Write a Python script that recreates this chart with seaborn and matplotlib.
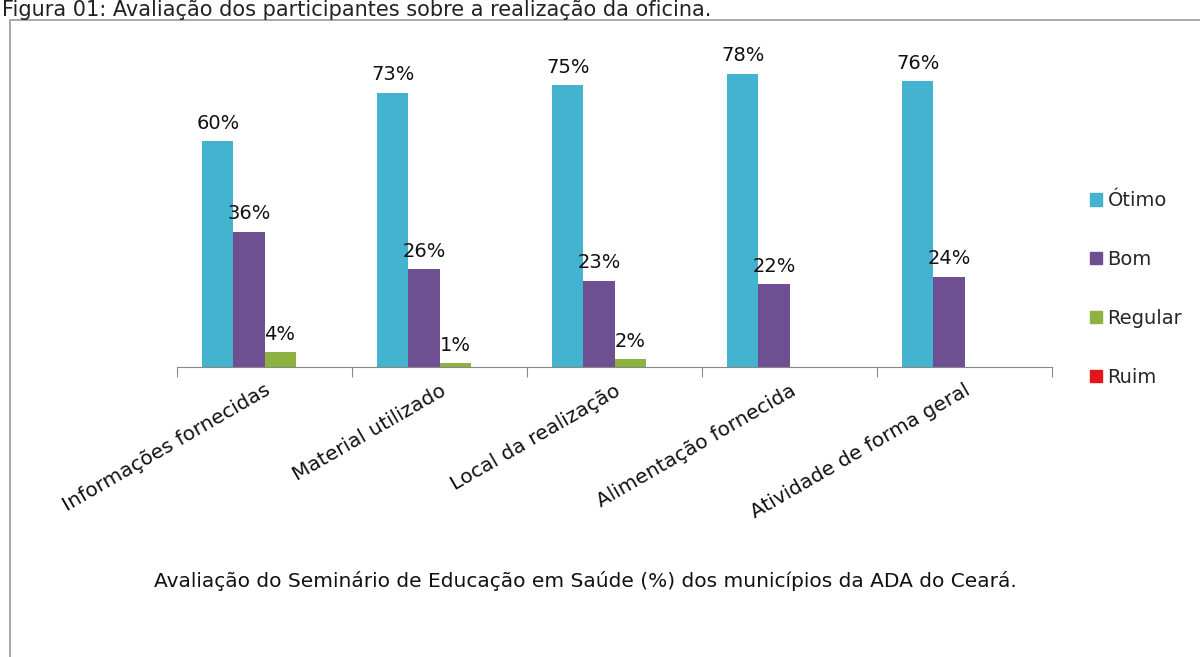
import matplotlib
matplotlib.use('Agg')
import matplotlib.pyplot as plt
import matplotlib.patches as mpatches
import seaborn as sns
import pandas as pd
import numpy as np

# ==================== 数据 ====================
categorias = ['Informações fornecidas', 'Material utilizado', 'Local da realização',
              'Alimentação fornecida', 'Atividade de forma geral']
niveis = ['Ótimo', 'Bom', 'Regular', 'Ruim']
otimo = [60, 73, 75, 78, 76]
bom = [36, 26, 23, 22, 24]
regular = [4, 1, 2, 0, 0]
ruim = [0, 0, 0, 0, 0]

cores = {'Ótimo': '#44B3CF', 'Bom': '#6E4F91', 'Regular': '#8DB23F', 'Ruim': '#E3161B'}

df = pd.DataFrame({
    'categoria': categorias * 4,
    'nivel': np.repeat(niveis, len(categorias)),
    'valor': otimo + bom + regular + ruim,
})

sns.set_style('white')
plt.rcParams['font.family'] = ['DejaVu Sans']

W, H = 1200, 657
fig = plt.figure(figsize=(W / 100, H / 100), dpi=100)
ax = fig.add_axes([177 / W, 1 - 367 / H, (1052 - 177) / W, (367 - 40) / H])

sns.barplot(data=df, x='categoria', y='valor', hue='nivel', hue_order=niveis,
            palette=cores, saturation=1, width=0.71, gap=0, ax=ax, legend=False,
            edgecolor='none', linewidth=0)

# rótulos de valor
for cont, nivel in zip(ax.containers, niveis):
    labels = [f'{v:.0f}%' if v > 0 else '' for v in cont.datavalues]
    ax.bar_label(cont, labels=labels, padding=6, fontsize=14, color='#111111')

ax.set_xlim(-0.5, 4.5)
ax.set_ylim(0, 87)
ax.set_xlabel('')
ax.set_ylabel('')
ax.set_yticks([])
for s in ['top', 'right', 'left']:
    ax.spines[s].set_visible(False)
ax.spines['bottom'].set_color('#888888')

# ticks nos limites das categorias, rótulos nos centros
ax.set_xticks(np.arange(-0.5, 5, 1))
ax.set_xticklabels([])
ax.tick_params(axis='x', which='major', direction='out', length=7, color='#888888', bottom=True)
ax.set_xticks(np.arange(5), minor=True)
ax.set_xticklabels(categorias, minor=True, rotation=30, ha='right',
                   rotation_mode='anchor', fontsize=14.5, color='#111111')
ax.tick_params(axis='x', which='minor', length=0, pad=10)

# legenda
handles = [mpatches.Patch(color=cores[n], label=n) for n in niveis]
fig.legend(handles=handles, loc='center left', bbox_to_anchor=(1090 / W, 1 - 289 / H),
           frameon=False, fontsize=14, handlelength=0.6, handleheight=0.6,
           handletextpad=0.3, labelspacing=2.05, borderpad=0, borderaxespad=0)

# legenda inferior e título
fig.text(585 / W, 1 - 581 / H,
         'Avaliação do Seminário de Educação em Saúde (%) dos municípios da ADA do Ceará.',
         ha='center', va='center', fontsize=14.5, color='#111111')
fig.text(0.002, 1 - 16 / H, 'Figura 01: Avaliação dos participantes sobre a realização da oficina.',
         ha='left', va='baseline', fontsize=15, color='#222222')

# moldura
fig.patches.append(mpatches.Rectangle((10 / W, -0.01), 1.2, 1 - 20 / H + 0.01,
                                      transform=fig.transFigure, fill=False,
                                      edgecolor='#999999', linewidth=1.2))

fig.savefig('out.png', dpi=100)
